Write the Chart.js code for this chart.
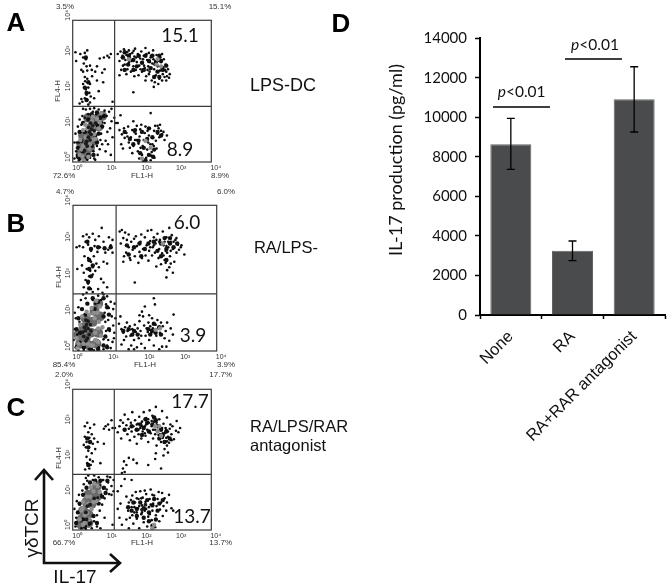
<!DOCTYPE html>
<html><head><meta charset="utf-8">
<style>html,body{margin:0;padding:0;background:#fff}#w{position:relative;width:672px;height:587px;overflow:hidden}canvas{position:absolute;left:0;top:0}</style>
<script src="https://cdn.jsdelivr.net/npm/chart.js@4"></script>
</head><body><div id="w">
<canvas id="ca" width="672" height="587"></canvas><canvas id="cb" width="672" height="587"></canvas><canvas id="cc" width="672" height="587"></canvas><canvas id="cd" width="672" height="587"></canvas>
</div>
<script>
// Bar panel data
const categories=['None','RA','RA+RAR antagonist'];
const values=[8640,3250,10910];
const errLow=[7370,2750,9260];
const errHigh=[9950,3745,12560];
const yTicks=[0,2000,4000,6000,8000,10000,12000,14000];
// Flow panels: flat x,y pairs in decades (log10) of FL1-H, FL4-H
const decades=[0,1,2,3,4];
const gateA=[1.21,1.57],gateB=[1.2,1.57],gateC=[1.2,1.58];
const panelA_fill=[0.25,0.25,0.35,0.5,0.45,0.75,0.55,1.0,0.65,1.2,0.3,0.75,0.6,0.6,0.75,1.0,0.4,0.2,0.85,1.3,0.45,1.25,0.25,0.5,0.5,0.4];
const panelB_fill=[0.2,0.2,0.35,0.35,0.5,0.5,0.3,0.65,0.55,0.8,0.7,0.5,0.6,1.1,0.75,0.95,0.65,0.2,0.45,0.15,0.7,1.3,0.15,0.45,0.35,0.9];
const panelC_fill=[0.25,0.3,0.3,0.55,0.45,0.45,0.4,0.8,0.55,0.75,0.6,1.05,0.7,0.95,0.7,1.25,0.45,1.0,0.25,0.15,0.45,0.2];
const panelA_black=[
1.30,3.05,1.35,2.85,1.38,3.12,1.42,2.95,1.45,2.72,1.48,3.18,1.52,2.88,1.55,3.02,1.58,2.62,1.6,2.78,1.62,3.15,1.65,2.95,1.68,2.55,1.7,2.85,1.72,3.08,1.75,2.7,1.78,2.98,1.8,3.2,1.82,2.6,1.85,2.82,1.88,3.05,1.9,2.45,1.92,2.72,1.95,2.92,1.98,3.12,2.0,2.55,2.02,2.8,2.05,3.0,2.08,2.65,2.1,3.22,2.12,2.42,2.15,2.88,2.18,2.7,2.2,3.08,2.22,2.55,2.25,2.95,2.28,2.3,2.3,2.78,2.32,3.15,2.35,2.62,2.38,2.85,2.4,2.45,2.42,3.02,2.45,2.7,2.48,2.92,2.5,2.35,2.52,2.58,2.55,2.82,2.58,3.05,2.6,2.48,2.62,2.68,2.65,2.4,2.68,2.75,2.7,2.55,2.75,2.62,2.78,2.38,2.8,2.48,
1.4,2.6,1.44,3.0,1.5,2.75,1.57,3.1,1.63,2.82,1.66,3.05,1.74,2.9,1.76,3.14,1.83,2.95,1.86,2.7,1.93,3.0,1.96,2.62,2.03,2.9,2.06,2.72,2.13,3.05,2.16,2.6,2.23,2.82,2.26,3.0,2.33,2.9,2.36,2.75,2.43,2.55,2.46,2.85,2.53,2.95,2.56,2.66,2.63,2.9,2.66,2.6,2.72,2.42,2.2,2.48,2.1,2.3,2.34,2.12,2.37,2.25,2.47,2.2,2.58,2.3,2.7,2.3,1.78,2.42,1.55,2.48,1.35,2.45,1.75,1.97,
0.22,3.05,0.08,3.1,0.1,2.85,0.3,2.95,0.35,3.08,0.38,2.9,0.42,3.15,0.32,2.78,0.4,2.7,0.25,2.6,0.3,2.55,0.42,2.58,0.5,2.72,0.55,2.6,0.65,2.55,0.7,2.7,0.78,2.92,0.85,2.52,0.9,2.95,0.92,2.62,1.0,3.0,1.05,2.95,1.1,3.05,0.88,2.25,0.7,2.3,0.75,2.0,0.35,2.4,0.42,2.35,0.3,2.2,0.45,2.1,0.38,2.05,0.5,2.2,0.48,1.95,0.4,1.9,0.52,1.85,0.42,1.75,0.35,1.8,0.25,1.78,0.2,1.65,0.28,1.7,0.5,1.68,0.62,1.8,0.45,1.62,1.15,1.7,0.56,2.42,0.36,2.28,
0.05,0.1,0.1,0.3,0.12,0.55,0.08,0.8,0.15,1.0,0.05,0.55,0.2,1.2,0.28,1.3,0.3,1.5,0.38,1.48,0.18,0.05,0.3,0.02,0.42,0.06,0.5,0.12,0.62,0.1,0.72,0.2,0.78,0.36,0.85,0.5,0.95,0.6,1.0,0.85,0.82,0.8,0.92,1.1,0.98,1.3,1.05,1.42,1.12,1.5,0.88,1.3,0.75,1.48,0.62,1.52,0.5,1.5,0.68,1.35,0.85,1.12,0.72,1.02,0.8,0.62,0.55,1.3,0.45,1.35,0.22,0.85,0.18,0.55,0.25,0.3,0.12,0.2,0.6,0.3,0.7,0.45,0.65,0.06,0.35,1.25,0.25,1.05,1.12,1.15,1.2,1.25,1.25,1.1,1.08,0.95,1.02,0.5,0.95,0.3,1.1,0.2,1.15,0.7,0.58,1.42,0.92,1.45,
1.35,0.9,1.42,0.78,1.48,0.95,1.5,0.68,1.55,0.82,1.6,1.0,1.62,0.55,1.68,0.7,1.72,0.9,1.75,0.45,1.8,0.62,1.82,0.8,1.85,1.02,1.88,0.3,1.9,0.52,1.93,0.72,1.95,0.92,1.98,1.05,2.0,0.2,2.02,0.45,2.05,0.62,2.08,0.82,2.1,1.0,2.12,0.12,2.15,0.35,2.18,0.55,2.2,0.75,2.22,0.95,2.25,0.05,2.28,0.28,2.3,0.5,2.32,0.68,2.35,0.88,2.38,1.02,2.4,0.6,2.42,0.38,2.45,0.8,2.48,0.95,2.5,0.7,2.55,0.88,2.58,0.78,2.62,0.85,2.65,0.62,2.72,0.75,1.4,0.5,1.45,0.38,1.58,0.72,1.65,0.4,1.72,0.25,1.92,0.1,1.96,0.4,2.03,0.02,2.12,0.65,2.16,0.88,2.24,0.5,2.26,0.18,2.34,0.45,2.36,0.12,1.78,0.85,1.85,0.62,1.3,1.1,1.38,1.32,2.25,1.38,1.75,1.15,2.45,1.02,2.52,1.05];
const panelA_mass=[1.45,2.95,1.6,2.75,1.62,3.0,1.75,2.88,1.85,2.7,1.9,3.0,2.0,2.8,2.05,2.6,2.1,3.0,2.2,2.85,2.25,2.65,2.3,3.0,2.4,2.8,2.45,2.55,2.55,2.85,2.6,2.6,2.7,2.72,1.5,2.6,1.75,2.6,2.5,2.4,2.35,2.4,1.5,3.1,2.5,3.0,
0.38,2.95,0.35,2.1,0.4,1.95,0.4,1.75,0.45,2.25,
0.2,0.1,0.3,0.3,0.15,0.4,0.25,0.6,0.2,0.85,0.35,0.85,0.3,1.1,0.45,1.2,0.55,1.35,0.7,1.4,0.8,1.25,0.7,1.05,0.85,1.0,0.65,0.75,0.75,0.8,0.55,0.45,0.45,0.2,0.35,0.1,0.6,0.2,0.7,0.55,0.15,0.15,0.9,1.3,
1.5,0.85,1.65,0.65,1.8,0.9,1.9,0.6,2.0,0.85,2.05,0.4,2.15,0.65,2.2,0.95,2.3,0.7,2.35,0.35,2.45,0.85,2.55,0.75,1.95,0.25,2.2,0.2,1.75,0.5,2.1,0.05,2.32,0.15];
const panelA_gray=[0.2,0.2,0.3,0.45,0.38,0.7,0.28,0.15,0.42,0.95,0.48,0.38,0.55,0.62,0.6,1.0,0.62,0.78,0.7,1.22,0.75,0.95,0.82,1.38,0.55,1.15,0.32,0.05,0.22,0.62,0.45,0.15,0.3,0.9,0.36,1.05,0.5,0.5,0.65,0.65,0.78,1.12,0.58,1.28,0.25,0.35,2.42,2.75,2.55,2.7,2.45,2.9,1.62,2.9,2.1,0.6,2.0,0.1,2.25,0.4];
const panelA_dark=[0.4,0.58,0.45,0.7,0.48,0.85,0.5,0.62,0.53,0.78,0.55,0.92,0.42,0.45,0.58,1.02,0.38,0.52,0.62,0.88,0.46,0.98,0.52,1.1,0.34,0.32,0.66,1.1];
const panelB_black=[
1.3,3.28,1.36,3.32,1.4,3.1,1.33,2.95,1.45,3.25,1.5,3.05,1.55,2.85,1.42,2.6,1.4,2.45,1.48,2.7,1.58,2.55,1.62,3.0,1.66,2.78,1.7,3.08,1.72,2.6,1.78,2.88,1.82,2.42,1.85,2.72,1.88,3.0,1.92,2.55,1.95,2.8,2.0,3.12,2.02,2.62,2.05,2.9,2.08,3.3,2.1,2.48,2.12,2.75,2.15,3.02,2.18,3.32,2.2,2.62,2.22,2.85,2.25,3.12,2.28,2.7,2.3,2.95,2.32,2.32,2.35,3.22,2.38,2.55,2.4,2.8,2.42,3.05,2.45,2.38,2.48,2.68,2.5,3.28,2.52,2.9,2.55,2.5,2.58,2.75,2.6,3.12,2.62,2.22,2.65,2.85,2.68,3.38,2.7,2.6,2.72,3.0,2.75,3.18,2.78,2.8,2.82,2.45,2.85,3.05,2.88,2.7,2.92,2.92,2.95,2.78,3.0,2.85,3.02,2.9,3.1,2.65,2.68,2.3,2.58,2.42,2.72,2.4,2.78,2.15,2.6,2.02,1.72,1.88,2.25,1.45,1.55,3.2,1.6,2.5,1.75,3.15,1.9,3.2,2.15,2.85,2.25,2.9,2.32,3.05,2.4,3.0,2.48,2.95,2.55,3.0,2.6,2.88,2.65,3.0,2.72,2.75,2.8,3.0,2.88,3.1,2.62,2.7,2.52,2.62,
0.28,3.15,0.38,3.2,0.45,3.12,0.55,3.22,0.62,3.05,0.72,3.15,0.8,3.38,0.85,3.0,1.0,3.12,1.05,2.9,1.1,3.05,0.1,2.85,0.18,2.88,0.28,2.85,0.35,3.0,0.42,2.92,0.5,2.75,0.6,2.88,0.68,2.72,0.75,2.85,0.9,2.7,0.98,2.78,1.1,2.7,0.25,2.35,0.12,2.25,0.32,2.6,0.42,2.55,0.5,2.45,0.58,2.6,0.65,2.4,0.48,2.2,0.38,2.25,0.55,2.1,0.45,2.05,0.62,2.2,0.72,2.3,0.85,2.45,0.95,2.4,0.78,1.98,0.85,1.88,0.95,1.75,0.35,1.95,0.42,1.85,0.5,1.7,0.38,1.6,0.3,1.75,0.55,1.62,0.7,1.7,0.82,1.6,0.3,2.15,0.55,2.3,
0.02,0.3,0.05,0.6,0.08,0.9,0.1,0.15,0.05,1.05,0.15,1.2,0.22,1.4,0.28,1.55,0.35,1.45,0.15,0.02,0.3,0.03,0.45,0.05,0.58,0.02,0.72,0.1,0.85,0.05,0.95,0.15,0.98,0.3,1.05,0.08,1.1,0.25,1.02,0.55,1.12,0.7,1.15,0.5,0.98,0.85,1.08,0.95,1.12,1.15,1.16,1.3,1.05,1.35,0.95,1.5,0.85,1.55,0.7,1.52,1.0,1.18,0.92,1.28,0.78,1.4,0.62,1.3,0.18,0.8,0.12,0.45,0.2,0.25,0.85,0.32,0.92,0.55,0.9,0.8,0.88,1.05,0.55,1.4,1.18,0.9,1.14,0.35,
1.28,0.75,1.35,0.6,1.4,0.5,1.45,0.65,1.48,0.4,1.5,0.78,1.52,0.55,1.58,0.68,1.6,0.42,1.62,0.15,1.65,0.6,1.7,0.3,1.72,0.72,1.75,0.52,1.78,0.1,1.8,0.62,1.83,0.35,1.85,0.82,1.88,0.55,1.9,0.2,1.95,0.95,1.98,0.7,2.0,0.08,2.02,0.42,2.05,0.62,2.08,0.52,2.1,0.78,2.12,0.3,2.15,0.68,2.18,0.5,2.2,0.9,2.22,0.62,2.25,0.15,2.28,0.55,2.3,0.72,2.32,0.42,2.35,0.85,2.38,0.62,2.4,0.05,2.42,0.5,2.45,0.78,2.48,0.12,2.5,0.68,2.55,0.35,2.58,0.55,2.62,0.78,2.68,0.28,2.72,0.62,2.78,0.45,2.8,1.0,1.42,0.3,1.55,0.05,1.7,0.05,1.9,0.42,2.6,0.12,2.0,1.22,2.28,1.28,2.12,0.98,1.35,0.18,1.32,0.95,1.85,0.98,1.92,1.08];
const panelB_mass=[1.5,2.9,1.7,2.85,1.85,2.95,2.0,2.8,2.1,2.95,2.25,3.0,2.35,2.75,2.45,2.95,2.55,3.1,2.6,2.8,2.7,2.95,2.8,2.85,2.6,2.5,2.45,2.6,2.9,2.95,1.55,2.65,1.9,2.6,2.7,3.1,
0.4,3.0,0.5,2.8,0.45,2.5,0.55,2.35,0.45,2.25,0.5,2.05,0.42,1.9,0.45,1.72,0.7,2.85,0.88,2.82,1.05,2.85,
0.1,0.1,0.2,0.5,0.1,0.6,0.15,0.9,0.25,1.15,0.4,1.3,0.55,1.45,0.7,1.35,0.85,1.45,0.95,1.2,0.85,0.95,1.0,1.0,1.0,0.6,0.9,0.4,0.85,0.15,0.7,0.05,0.95,0.1,0.5,0.05,0.3,0.1,0.35,1.0,0.6,1.15,
1.4,0.55,1.55,0.6,1.7,0.55,1.8,0.45,2.1,0.6,2.2,0.55,2.3,0.5,2.4,0.65,2.25,0.75,2.15,0.45,2.45,0.45,1.65,0.45];
const panelB_gray=[0.12,0.08,0.1,0.35,0.3,0.2,0.42,0.2,0.55,0.15,0.62,0.5,0.7,0.25,0.72,0.8,0.68,1.05,0.6,0.9,0.75,1.22,0.65,1.38,0.45,1.0,0.82,0.65,0.52,1.18,0.25,0.95,0.2,0.72,0.78,0.42,0.15,0.2,0.5,0.15,0.62,0.3,0.7,0.62,0.58,1.05,0.38,1.08,2.3,0.58,2.42,0.62,2.5,2.95];
const panelB_dark=[0.3,0.4,0.34,0.55,0.38,0.72,0.4,0.35,0.42,0.62,0.45,0.45,0.36,0.28,0.48,0.72,0.28,0.52,0.5,0.55,0.42,0.82,0.32,0.65,0.36,0.85];
const panelC_black=[
1.22,2.9,1.3,2.78,1.35,2.95,1.4,2.6,1.45,3.05,1.48,2.85,1.5,3.28,1.55,2.98,1.58,2.72,1.6,3.15,1.62,2.88,1.65,2.55,1.68,3.05,1.7,2.8,1.72,3.35,1.75,2.95,1.78,2.65,1.8,3.12,1.82,2.85,1.85,2.45,1.88,3.02,1.9,2.72,1.92,3.22,1.95,2.9,1.98,2.6,2.0,3.08,2.02,2.8,2.05,3.35,2.08,2.95,2.1,2.68,2.12,3.18,2.15,2.85,2.18,2.5,2.2,3.05,2.22,3.4,2.25,2.75,2.28,2.95,2.3,3.25,2.32,2.6,2.35,3.08,2.38,2.85,2.4,3.5,2.42,2.4,2.45,2.98,2.48,2.7,2.5,3.15,2.52,2.88,2.55,2.5,2.58,3.38,2.6,2.75,2.62,3.02,2.65,2.3,2.68,2.9,2.7,2.62,2.72,3.2,2.75,2.8,2.78,2.48,2.82,3.0,2.85,2.72,2.88,2.95,2.92,2.58,2.98,2.82,3.05,2.78,3.1,2.9,3.0,3.1,2.75,2.2,2.62,2.12,2.72,2.4,2.4,2.18,
1.38,3.12,1.85,3.0,1.9,2.85,2.0,2.95,2.08,2.75,2.12,3.0,2.18,3.15,2.2,2.8,2.28,3.1,2.32,2.85,2.38,2.72,2.42,3.05,2.45,2.82,2.5,2.6,2.52,2.72,2.58,2.9,2.6,2.62,2.65,2.75,2.7,2.85,2.72,2.52,2.75,2.65,2.8,2.88,2.85,2.55,
0.35,2.95,0.42,3.05,0.5,2.9,0.45,2.78,0.35,2.65,0.4,2.5,0.48,2.62,0.55,2.72,0.58,2.45,0.62,2.6,0.38,2.35,0.45,2.25,0.55,2.18,0.65,2.3,0.72,2.5,0.32,2.42,0.4,2.08,0.5,2.0,0.42,1.9,0.48,1.75,0.52,1.85,0.58,1.95,0.36,1.72,0.62,3.0,0.9,2.88,0.95,2.95,1.02,3.0,1.12,3.12,1.05,2.85,1.15,2.9,0.9,2.45,0.8,1.9,1.45,1.75,1.48,1.95,1.55,1.85,1.5,1.65,1.42,1.62,1.62,2.05,1.75,2.0,1.85,1.9,2.18,1.85,2.38,2.02,2.55,1.75,
0.08,0.1,0.1,0.35,0.05,0.6,0.12,0.82,0.18,1.0,0.22,0.25,0.25,0.05,0.15,0.5,0.38,0.03,0.48,0.15,0.55,0.05,0.62,0.25,0.7,0.42,0.78,0.55,0.85,0.72,0.92,0.9,0.98,1.15,1.02,1.35,1.08,1.5,1.12,1.25,1.0,1.52,0.88,1.42,0.75,1.5,0.62,1.55,0.45,1.55,0.38,1.48,0.32,1.3,0.28,1.12,0.88,1.18,0.82,1.02,0.72,0.92,0.92,0.35,0.7,0.1,0.8,0.05,1.15,0.15,1.12,1.0,0.2,0.72,0.42,1.4,0.58,1.42,0.78,1.28,1.05,1.02,1.18,1.42,1.18,1.1,
1.3,0.6,1.35,0.35,1.38,0.75,1.42,0.15,1.5,1.45,1.55,0.95,1.6,0.55,1.62,0.78,1.65,0.35,1.7,0.65,1.72,0.98,1.75,0.18,1.78,0.5,1.8,0.78,1.82,1.08,1.85,0.32,1.88,0.62,1.9,0.88,1.92,0.05,1.95,1.1,1.98,0.45,2.0,0.7,2.02,0.92,2.05,0.22,2.08,0.55,2.1,0.8,2.12,1.02,2.15,0.1,2.18,0.38,2.2,0.65,2.22,0.88,2.25,1.15,2.28,0.28,2.3,0.55,2.32,0.75,2.35,0.98,2.38,0.08,2.4,0.42,2.42,0.68,2.45,0.88,2.48,1.08,2.5,0.25,2.52,0.58,2.55,0.78,2.58,1.05,2.6,0.4,2.62,0.68,2.65,0.9,2.7,0.55,2.72,0.78,2.78,1.0,2.85,0.62,2.9,0.55,1.55,0.3,1.62,0.05,1.72,0.42,1.85,0.9,1.98,0.9,2.08,1.12,2.3,1.0,2.12,0.6,1.92,0.68,2.0,0.5,2.22,0.45,2.25,0.72,1.78,0.65,1.68,0.85,1.85,0.5,1.4,1.25,1.3,1.1,1.7,1.42];
const panelC_mass=[1.5,2.85,1.7,2.95,1.85,2.85,1.95,3.0,2.05,2.9,2.15,3.05,2.2,2.8,2.3,3.0,2.35,3.2,2.45,2.95,2.55,2.85,2.6,2.7,2.5,2.6,2.7,2.8,2.4,3.12,2.1,3.15,2.0,2.7,2.8,2.6,2.65,2.5,
0.42,2.6,0.45,2.35,0.5,2.5,0.45,1.85,
0.1,0.2,0.15,0.5,0.2,0.75,0.3,1.0,0.4,1.2,0.5,1.35,0.65,1.4,0.8,1.4,0.9,1.2,0.85,0.95,0.75,0.75,0.6,0.4,0.5,0.2,0.35,0.1,0.7,0.2,1.0,1.4,0.95,1.05,0.3,0.3,
1.6,0.65,1.75,0.78,1.85,0.6,1.95,0.78,2.05,0.62,2.15,0.85,2.2,0.5,2.3,0.7,2.35,0.88,2.45,0.55,2.5,0.75,2.6,0.85,2.05,0.35,2.2,0.25,2.3,0.12,2.4,0.3,1.85,0.4,1.7,0.55];
const panelC_gray=[0.2,0.3,0.25,0.55,0.3,0.8,0.35,0.2,0.42,0.48,0.45,0.75,0.5,0.95,0.55,0.6,0.6,1.1,0.68,0.82,0.72,1.25,0.4,0.95,0.35,0.42,0.62,1.32,0.52,1.22,0.28,0.62,0.48,0.3,0.6,0.8,0.4,0.7,0.78,1.08,0.3,0.15,2.45,2.8,2.55,2.68,2.38,2.95,2.35,0.15,2.5,2.95,2.3,0.05];
const panelC_dark=[0.38,0.5,0.4,0.3,0.42,0.68,0.5,0.72,0.62,0.9,2.0,0.58,2.1,0.72];

function pts(a){const r=[];for(let i=0;i<a.length;i+=2)r.push({x:a[i],y:a[i+1]});return r;}
const SANS='"Liberation Sans",Arial,sans-serif';
function txt(c,s,x,y,o={}){c.save();c.translate(x,y);if(o.rot)c.rotate(o.rot);c.font=o.font||('11px '+SANS);c.fillStyle=o.color||'#111';c.textAlign=o.align||'center';c.textBaseline='middle';c.fillText(s,0,0);c.restore();}
const sup=['\u2070','\u00b9','\u00b2','\u00b3','\u2074'];
function flow(id,box,gate,fill,mass,black,gray,dark,labels){
  const plugin={id:'fr',afterDatasetsDraw(ch){
    const c=ch.ctx,xs=ch.scales.x,ys=ch.scales.y,a=ch.chartArea;
    c.save();c.strokeStyle='#3a3a3a';c.lineWidth=1.2;c.strokeRect(a.left,a.top,a.right-a.left,a.bottom-a.top);
    c.beginPath();const gx=xs.getPixelForValue(gate[0]),gy=ys.getPixelForValue(gate[1]);
    c.moveTo(gx,a.top);c.lineTo(gx,a.bottom);c.moveTo(a.left,gy);c.lineTo(a.right,gy);c.stroke();c.restore();
    decades.forEach(d=>{
      txt(c,'10'+sup[d],xs.getPixelForValue(d)+4.5,a.bottom+6,{font:'7px '+SANS,color:'#333'});
      txt(c,'10'+sup[d],a.left-5,ys.getPixelForValue(d)-5,{font:'7px '+SANS,color:'#333',rot:-Math.PI/2});
    });
    labels.forEach(l=>txt(c,l[0],l[1],l[2],l[3]));
  }};
  const ds=(d,r,col,ord)=>({data:pts(d),pointRadius:r,pointBackgroundColor:col,pointBorderWidth:0,showLine:false,order:ord,clip:true});
  return new Chart(document.getElementById(id),{type:'scatter',
    data:{datasets:[ds(fill,5,'#6a6a6a',5),ds(mass,2.2,'#111',4),ds(black,1.3,'#0c0c0c',3),ds(gray,2.2,'#909090',2),ds(dark,1.9,'#1c1c1c',1)]},
    options:{responsive:false,animation:false,events:[],layout:{padding:box},
      plugins:{legend:{display:false},tooltip:{enabled:false}},
      scales:{x:{type:'linear',min:0,max:4,display:false},y:{type:'linear',min:0,max:4,display:false}}},
    plugins:[plugin]});
}
const pct={font:'8px '+SANS,color:'#333'},big={font:'19px Lato,sans-serif',color:'#111'},letter={font:'bold 26px '+SANS,color:'#000'},side={font:'16.5px '+SANS,color:'#111'};
flow('ca',{left:72.7,top:20.3,right:672-211.3,bottom:587-162},gateA,panelA_fill,panelA_mass,panelA_black,panelA_gray,panelA_dark,[
 ['3.5%',65,7,pct],['15.1%',220,7,pct],['72.6%',64,176,pct],['8.9%',220,176,pct],['FL1-H',142,176,pct],['FL4-H',58,91,{...pct,rot:-Math.PI/2}],
 ['15.1',180,36,big],['8.9',180,150,big],['A',16,24,letter],['LPS-DC',283,86,{...side,font:'18px '+SANS}]]);
flow('cb',{left:73,top:205.3,right:672-216.7,bottom:587-351},gateB,panelB_fill,panelB_mass,panelB_black,panelB_gray,panelB_dark,[
 ['4.7%',65,192,pct],['6.0%',226,192,pct],['85.4%',64,365,pct],['3.9%',226,365,pct],['FL1-H',145,365,pct],['FL4-H',59,277,{...pct,rot:-Math.PI/2}],
 ['6.0',187,223,big],['3.9',193,336,big],['B',16,225,letter],['RA/LPS-',286,248,side]]);
flow('cc',{left:72.7,top:389.3,right:672-211.3,bottom:587-530},gateC,panelC_fill,panelC_mass,panelC_black,panelC_gray,panelC_dark,[
 ['2.0%',64,375,pct],['17.7%',220.7,375,pct],['66.7%',64,543,pct],['13.7%',220.7,543,pct],['FL1-H',142,543,pct],['FL4-H',59,458,{...pct,rot:-Math.PI/2}],
 ['17.7',190,402,big],['13.7',192,517,big],['C',16,409,letter],['RA/LPS/RAR',250,427,{...side,align:'left'}],['antagonist',250,446,{...side,align:'left'}],
 ['\u03b3\u03b4TCR',33,528,{font:'19px '+SANS,color:'#111',rot:-Math.PI/2}],['IL-17',75,578,{font:'19px '+SANS,color:'#111'}]]);

const barPlugin={id:'bp',afterDatasetsDraw(ch){
  const c=ch.ctx,xs=ch.scales.x,ys=ch.scales.y;
  c.save();c.strokeStyle='#000';c.lineWidth=1.3;
  categories.forEach((n,i)=>{const x=xs.getPixelForValue(i),lo=ys.getPixelForValue(errLow[i]),hi=ys.getPixelForValue(errHigh[i]);
    c.beginPath();c.moveTo(x,lo);c.lineTo(x,hi);c.moveTo(x-4,lo);c.lineTo(x+4,lo);c.moveTo(x-4,hi);c.lineTo(x+4,hi);c.stroke();});
  c.beginPath();c.moveTo(493,107);c.lineTo(550,107);c.moveTo(565,59);c.lineTo(622,59);c.stroke();c.restore();
  const pval=(cx,y)=>{c.save();c.textBaseline='middle';c.fillStyle='#111';c.textAlign='left';
    c.font='italic 15.5px Lato,sans-serif';const w1=c.measureText('p').width;c.font='15.5px Lato,sans-serif';const w2=c.measureText('<0.01').width;
    const x0=cx-(w1+w2)/2;c.font='italic 15.5px Lato,sans-serif';c.fillText('p',x0,y);c.font='15.5px Lato,sans-serif';c.fillText('<0.01',x0+w1,y);c.restore();};
  pval(521.7,92);pval(595,45);
  txt(c,'D',341,25,letter);
  txt(c,'IL-17 production (pg/ml)',395.7,160,{font:'18px Lato,sans-serif',color:'#111',rot:-Math.PI/2});
  c.save();c.strokeStyle='#111';c.lineWidth=2.6;c.lineJoin='miter';c.beginPath();
  c.moveTo(44,472);c.lineTo(44,563);c.lineTo(118,563);
  c.moveTo(35,480);c.lineTo(44,470);c.lineTo(53,480);
  c.moveTo(110,554);c.lineTo(120,563);c.lineTo(110,572);c.stroke();c.restore();
}};
new Chart(document.getElementById('cd'),{type:'bar',
  data:{labels:categories,datasets:[{data:values,backgroundColor:'#4a4b4d',borderColor:'#626365',borderWidth:1,barPercentage:0.665,categoryPercentage:1}]},
  options:{responsive:false,animation:false,events:[],layout:{padding:{left:390,right:7,top:38.3,bottom:122}},
    plugins:{legend:{display:false},tooltip:{enabled:false}},
    scales:{
      x:{afterFit(s){s.height=150;},grid:{drawOnChartArea:false,offset:true,tickLength:4,tickColor:'#000',tickWidth:1.5},border:{color:'#000',width:2},
         ticks:{autoSkip:false,minRotation:45,maxRotation:45,color:'#111',padding:8,font:{family:'Liberation Sans',size:16.5}}},
      y:{min:0,max:14000,afterFit(s){s.width=90;},afterBuildTicks(s){s.ticks=yTicks.map(v=>({value:v}));},
         grid:{drawOnChartArea:false,tickLength:5,tickColor:'#000',tickWidth:1.5},border:{color:'#000',width:2},
         ticks:{color:'#111',padding:8,font:{family:'Lato',size:15},callback:v=>String(v)}}}},
  plugins:[barPlugin]});
</script></body></html>
